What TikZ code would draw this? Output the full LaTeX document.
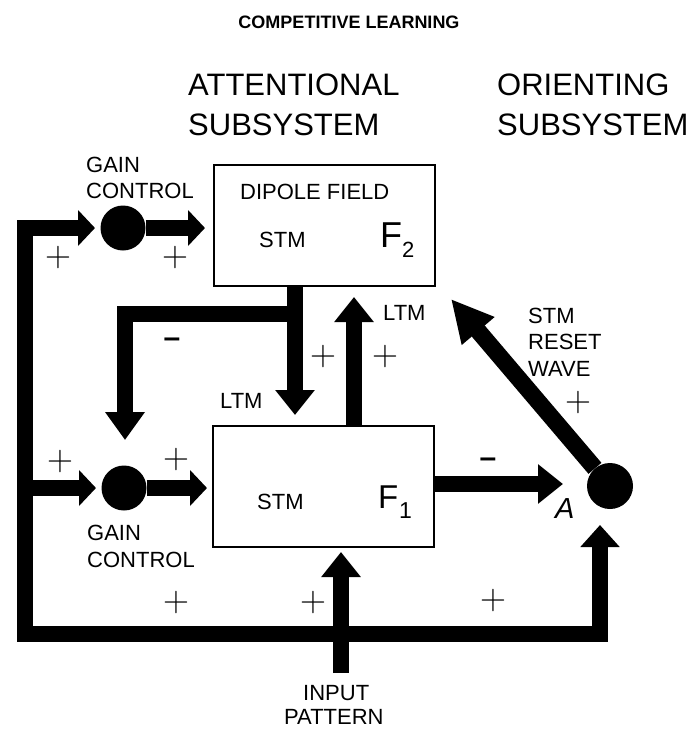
\documentclass[tikz,border=0pt]{standalone}
\usepackage{fontspec}
\newfontfamily\lib{Liberation Sans}
\usetikzlibrary{arrows.meta}
\newcommand\myfs[1]{\fontsize{#1}{#1}\selectfont}
\begin{document}
\begin{tikzpicture}[x=1pt,y=-1pt,
  bar/.style={line width=16pt, line join=miter, line cap=butt},
  tipS/.style={-{Triangle[length=17pt,width=35pt]}},
  tipL/.style={-{Triangle[length=25pt,width=38pt]}},
  lbl/.style={font=\lib\myfs{22}, inner sep=0pt, anchor=base west},
  plus/.style={font=\rmfamily\myfs{36}, inner sep=0pt},
  minus/.style={font=\lib\bfseries\myfs{30}, inner sep=0pt},
  box/.style={draw, line width=1.6pt, minimum width=221pt, minimum height=121pt, inner sep=0pt},
  dot/.style={circle, fill, inner sep=0pt, minimum size=45pt}]
\fill[white] (0,0) rectangle (689,729);
\useasboundingbox (0,0) rectangle (689,729);

% title and headings
\node[font=\lib\bfseries\myfs{18}, inner sep=0pt, anchor=base] (title) at (349,28) {COMPETITIVE LEARNING};
\node[font=\lib\myfs{31}, inner sep=0pt, anchor=base west] (att1) at (188,95) {ATTENTIONAL};
\node[font=\lib\myfs{31}, inner sep=0pt, anchor=base west] (att2) at (188,135) {SUBSYSTEM};
\node[font=\lib\myfs{31}, inner sep=0pt, anchor=base west] (ori1) at (497,95) {ORIENTING};
\node[font=\lib\myfs{31}, inner sep=0pt, anchor=base west] (ori2) at (497,135) {SUBSYSTEM};

% boxes
\node[box] (f2) at (324.5,225.5) {};
\node[box] (f1) at (323.5,486.5) {};
\node[lbl] (dip) at (240,199) {DIPOLE FIELD};
\node[lbl] (stm2) at (259,247) {STM};
\node[font=\lib\myfs{36}, inner sep=0pt, anchor=base west] (F2) at (380,247) {F};
\node[font=\lib\myfs{22}, inner sep=0pt, anchor=base west] (F2s) at (402,257) {2};
\node[lbl] (stm1) at (257,509) {STM};
\node[font=\lib\myfs{33}, inner sep=0pt, anchor=base west] (F1) at (378,508) {F};
\node[font=\lib\myfs{23}, inner sep=0pt, anchor=base west] (F1s) at (399,518) {1};

% gain control dots
\node[dot] (g1) at (123,228) {};
\node[dot] (g2) at (124,488) {};
\node[dot, minimum size=46pt] (ac) at (610,486) {};
\node[lbl] (gc1a) at (86,172) {GAIN};
\node[lbl] (gc1b) at (86,198) {CONTROL};
\node[lbl] (gc2a) at (87,540) {GAIN};
\node[lbl] (gc2b) at (87,567) {CONTROL};
\node[font=\lib\itshape\myfs{29}, inner sep=0pt, anchor=base west] (Alab) at (555,518) {A};

% coordinates
\coordinate (g1In) at (95,228);
\coordinate (cTL) at (25,228);
\coordinate (cBL) at (25,634);
\coordinate (cBR) at (600,634);
\coordinate (aIn) at (600,525);
\coordinate (f2In) at (205,228);
\coordinate (lb2) at (25,488);
\coordinate (g2In) at (96,488);
\coordinate (f1In) at (207,488);
\coordinate (f2Out) at (295,286);
\coordinate (f1Top) at (295,415);
\coordinate (brR) at (295,314);
\coordinate (brL) at (125,314);
\coordinate (brTip) at (125,440);
\coordinate (f1Up) at (354,426);
\coordinate (f2Up) at (354,297);
\coordinate (f1Out) at (434,484);
\coordinate (aL) at (563,484);
\coordinate (rTip) at (451,299);
\coordinate (inp) at (341,673);
\coordinate (f1Bot) at (341,552);

% connectors
\draw[bar, {Triangle[length=17pt,width=35pt]}-{Triangle[length=22pt,width=38pt]}]
  (g1In) -- (cTL) -- (cBL) -- (cBR) -- (aIn);
\draw[bar, tipS] (g1) -- (f2In);
\draw[bar, tipS] (lb2) -- (g2In);
\draw[bar, tipS] (g2) -- (f1In);
\draw[bar, tipL] (f2Out) -- (f1Top);
\draw[bar, -{Triangle[length=28pt,width=38pt]}] (brR) -- (brL) -- (brTip);
\draw[bar, tipL] (f1Up) -- (f2Up);
\draw[bar, tipL] (f1Out) -- (aL);
\draw[bar, line width=17pt, -{Triangle[length=42pt,width=40pt]}] (ac) -- (rTip);
\draw[bar, tipL] (inp) -- (f1Bot);

% labels on connectors
\node[lbl] (ltm1) at (220,408) {LTM};
\node[lbl] (ltm2) at (383,320) {LTM};
\node[lbl] (rs1) at (528,323) {STM};
\node[lbl] (rs2) at (528,349) {RESET};
\node[lbl] (rs3) at (528,376) {WAVE};
\node[lbl] (in1) at (303,700) {INPUT};
\node[lbl] (in2) at (284,724) {PATTERN};

\node[plus] (p1) at (58,258) {+};
\node[plus] (p2) at (175,258) {+};
\node[plus] (p3) at (323,357) {+};
\node[plus] (p4) at (385,357) {+};
\node[plus] (p5) at (578,403) {+};
\node[plus] (p6) at (60,462) {+};
\node[plus] (p7) at (176,460) {+};
\node[plus] (p8) at (176,603) {+};
\node[plus] (p9) at (313,603) {+};
\node[plus] (p10) at (493,601) {+};
\node[minus] (m1) at (172,343) {–};
\node[minus] (m2) at (488,463) {–};
\end{tikzpicture}
\end{document}
